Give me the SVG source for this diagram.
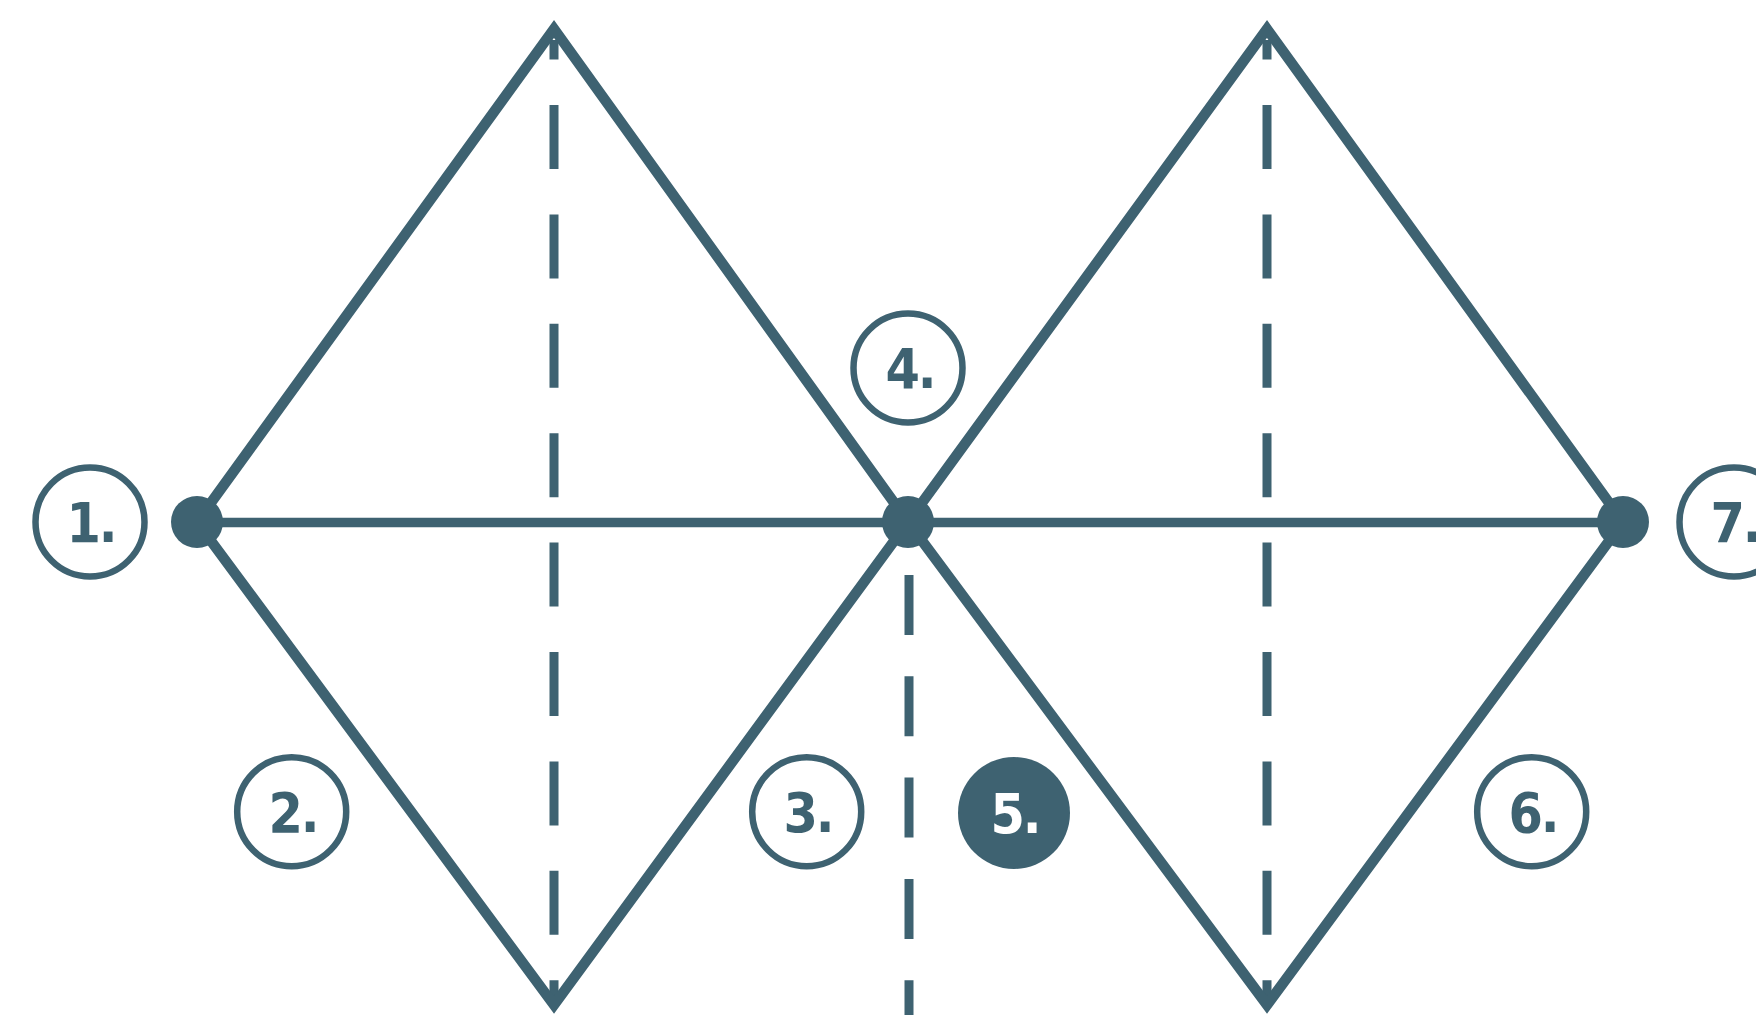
<svg xmlns="http://www.w3.org/2000/svg" width="1756" height="1015" viewBox="0 0 1756 1015">
<style>
.ln{stroke:#3e6271;stroke-width:10.5;fill:none;stroke-linejoin:miter;stroke-miterlimit:10}
.hl{stroke:#3e6271;stroke-width:9.5}
.dash1{stroke:#3e6271;stroke-width:9;stroke-dasharray:64 45.4;stroke-dashoffset:44.4}
.dash2{stroke:#3e6271;stroke-width:9;stroke-dasharray:60 41.3}
.dot{fill:#3e6271}
.ring{fill:#fff;stroke:#3e6271;stroke-width:6.5}
.fill{fill:#3e6271}
.lbl{font-family:"DejaVu Sans",sans-serif;font-weight:bold;font-stretch:condensed;font-size:55px;letter-spacing:-2px;text-anchor:middle;fill:#3e6271}
.lblw{fill:#fff}
</style>
<rect width="1756" height="1015" fill="#fff"/>
<g id="connectors">
<line class="dash1" x1="554" y1="40" x2="554" y2="1000"/>
<line class="dash1" x1="1267" y1="40" x2="1267" y2="1000"/>
<line class="dash2" x1="909" y1="575" x2="909" y2="1015"/>
<polygon class="ln" points="197,522 554,29 908,522 554,1005"/>
<polygon class="ln" points="908,522 1267,29 1623,522 1267,1005"/>
<line class="hl" x1="197" y1="522.5" x2="1623" y2="522.5"/>
</g>
<g id="dot-left"><circle class="dot" cx="197" cy="522" r="26"/></g>
<g id="dot-center"><circle class="dot" cx="908" cy="522" r="26"/></g>
<g id="dot-right"><circle class="dot" cx="1623" cy="522" r="26"/></g>
<g id="n1"><circle class="ring" cx="90" cy="522" r="54.5"/><text class="lbl" x="91" y="542">1.</text></g>
<g id="n2"><circle class="ring" cx="291.7" cy="811.7" r="54.5"/><text class="lbl" x="293" y="831.5">2.</text></g>
<g id="n3"><circle class="ring" cx="806.7" cy="811.7" r="54.5"/><text class="lbl" x="808" y="831.5">3.</text></g>
<g id="n4"><circle class="ring" cx="908" cy="368" r="54.5"/><text class="lbl" x="910" y="388">4.</text></g>
<g id="n5"><circle class="fill" cx="1014" cy="813" r="56"/><text class="lbl lblw" x="1015" y="833">5.</text></g>
<g id="n6"><circle class="ring" cx="1531.7" cy="811.7" r="54.5"/><text class="lbl" x="1533" y="831.5">6.</text></g>
<g id="n7"><circle class="ring" cx="1734" cy="522" r="54.5"/><text class="lbl" x="1735" y="542">7.</text></g>
</svg>
